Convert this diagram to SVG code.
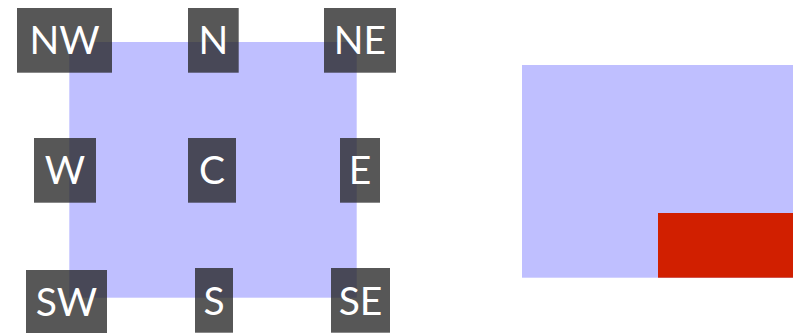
<svg xmlns="http://www.w3.org/2000/svg" width="800" height="333" viewBox="0 0 800 333">
<style>
.bg{fill:#bfbfff}
.lb rect{fill:#222;fill-opacity:0.76}
.lb text{fill:#fff;font-family:Lato,"Open Sans",sans-serif;font-size:39px;text-anchor:middle}
</style>
<rect width="800" height="333" fill="#fff"/>
<g id="square"><rect class="bg" x="69.3" y="42" width="287.4" height="255.7"/></g>
<g id="NW" class="lb"><rect x="17" y="8" width="95" height="64.7"/><text x="64.5" y="54.3">NW</text></g>
<g id="N" class="lb"><rect x="188" y="8" width="50.7" height="64.7"/><text x="213.3" y="54.3">N</text></g>
<g id="NE" class="lb"><rect x="324" y="8" width="72" height="64.7"/><text x="360" y="54.3">NE</text></g>
<g id="W" class="lb"><rect x="34" y="138" width="62" height="64.7"/><text x="65" y="183.5">W</text></g>
<g id="C" class="lb"><rect x="188" y="138" width="48" height="64.7"/><text x="212" y="183.5">C</text></g>
<g id="E" class="lb"><rect x="340" y="138" width="40" height="64.7"/><text x="360" y="183.5">E</text></g>
<g id="SW" class="lb"><rect x="26" y="270" width="81" height="64.7"/><text x="66.5" y="316">SW</text></g>
<g id="S" class="lb"><rect x="195" y="268" width="38" height="64.7"/><text x="214" y="314.5">S</text></g>
<g id="SE" class="lb"><rect x="331" y="268" width="59" height="64.7"/><text x="360.5" y="314.5">SE</text></g>
<g id="right">
<rect class="bg" x="522" y="65" width="271" height="212.7"/>
<rect x="658" y="213" width="135" height="64.7" fill="#d11f00"/>
</g>
<g id="connectors"/>
</svg>
